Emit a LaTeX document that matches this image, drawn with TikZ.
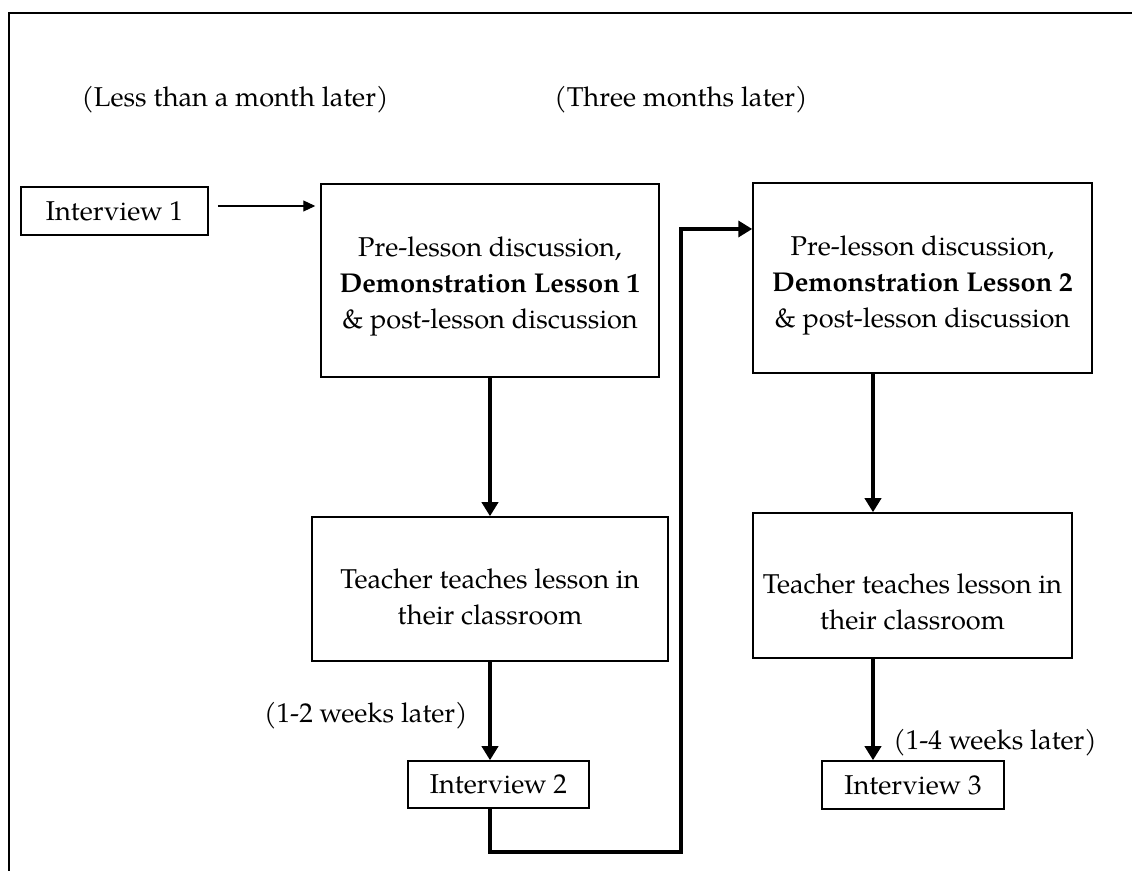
\documentclass[tikz,border=0pt]{standalone}
\usepackage{fontspec}
\setmainfont{texgyrepagella}[Extension=.otf, UprightFont=*-regular, BoldFont=*-bold, ItalicFont=*-italic, BoldItalicFont=*-bolditalic]
\usetikzlibrary{arrows.meta}
\begin{document}
\begin{tikzpicture}[x=0.5pt,y=-0.5pt,
  every node/.style={font=\fontsize{13.6}{18}\selectfont, inner sep=0pt},
  box/.style={draw, line width=0.75pt, align=center},
  txt/.style={align=center},
  lbl/.style={},
  thinarrow/.style={line width=0.55pt, -{Triangle[length=6pt,width=5.5pt]}},
  thickarrow/.style={line width=2.2pt, -{Triangle[length=7pt,width=8pt]}}]
\useasboundingbox (0,0) rectangle (1132,871);
\draw[line width=1.1pt] (9,871) -- (9,13) -- (1132,13);

\node[lbl] (l1) at (235,100) {(Less than a month later)};
\node[lbl] (l2) at (681,100) {(Three months later)};

\node[box, minimum width=93.5pt, minimum height=24pt] (int1) at (114.5,211) {Interview 1};
\node[box, minimum width=169pt, minimum height=96.5pt,
  label={[txt, yshift=-3pt]center:{Pre-lesson discussion,\\ \textbf{Demonstration Lesson 1}\\ \& post-lesson discussion}}]
  (box1) at (490,280.5) {};
\node[box, minimum width=169.5pt, minimum height=95pt,
  label={[txt, yshift=-3.5pt]center:{Pre-lesson discussion,\\ \textbf{Demonstration Lesson 2}\\ \& post-lesson discussion}}]
  (box2) at (922.5,278) {};
\node[box, minimum width=178pt, minimum height=72pt,
  label={[txt, yshift=-4pt]center:{Teacher teaches lesson in\\ their classroom}}]
  (box3) at (490,589) {};
\node[box, minimum width=159.5pt, minimum height=72.5pt,
  label={[txt, yshift=-8pt]center:{Teacher teaches lesson in\\ their classroom}}]
  (box4) at (912.5,585.5) {};
\node[box, minimum width=90.5pt, minimum height=23.5pt] (int2) at (498.5,784.5) {Interview 2};
\node[box, minimum width=91pt, minimum height=24pt] (int3) at (913,785) {Interview 3};

\node[lbl, anchor=east] (w1) at (468,716) {(1-2 weeks later)};
\node[lbl, anchor=west] (w2) at (893,743) {(1-4 weeks later)};

\coordinate (a1) at (0,206);
\draw[thinarrow, shorten <=4.5pt, shorten >=2.5pt] (int1.east |- a1) -- (box1.west |- a1);

\coordinate (x1) at (490,0);
\draw[thickarrow] (box1.south -| x1) -- (box3.north -| x1);
\draw[thickarrow] (box3.south -| x1) -- (int2.north -| x1);

\coordinate (x2) at (873,0);
\draw[thickarrow] (box2.south -| x2) -- (box4.north -| x2);
\draw[thickarrow] (box4.south -| x2) -- (int3.north -| x2);

\coordinate (c1) at (681,852);
\coordinate (entry) at (681,229);
\draw[thickarrow, line join=miter] (int2.south -| x1) |- (c1) -- (entry) -- (box2.west |- entry);
\end{tikzpicture}
\end{document}
